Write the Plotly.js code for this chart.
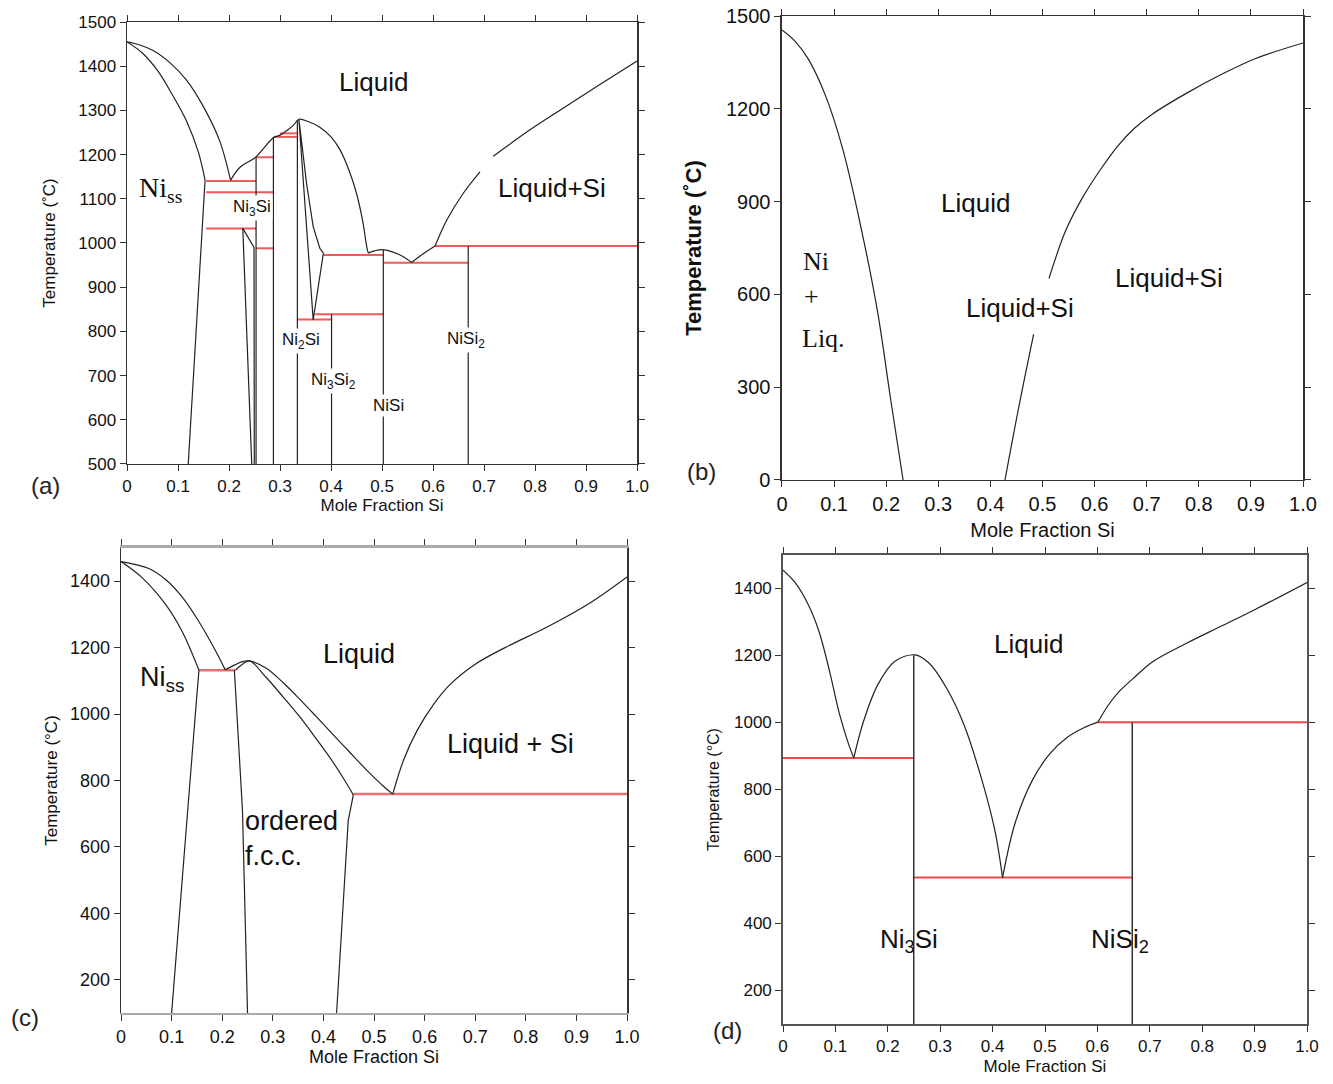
<!DOCTYPE html>
<html><head><meta charset="utf-8">
<script src="https://cdn.plot.ly/plotly-3.0.1.min.js"></script>
<style>html,body{margin:0;padding:0;background:#fff}#chart{width:1333px;height:1084px}</style>
</head><body><div id="chart"></div>
<script>
// ---------- shared tick labels ----------
const xTickVals = [0,0.1,0.2,0.3,0.4,0.5,0.6,0.7,0.8,0.9,1.0];
const xTickText = ['0','0.1','0.2','0.3','0.4','0.5','0.6','0.7','0.8','0.9','1.0'];
const aYTicks = [500,600,700,800,900,1000,1100,1200,1300,1400,1500];
const bYTicks = [0,300,600,900,1200,1500];
const cdYTicks = [200,400,600,800,1000,1200,1400];

// ---------- panel (a) ----------
const aLiqNiX = [0, 0.025, 0.052, 0.084, 0.117, 0.150, 0.182, 0.203];
const aLiqNiT = [1455, 1448, 1435, 1408, 1368, 1308, 1230, 1142];
const aSolNiX = [0, 0.03, 0.06, 0.09, 0.117, 0.140, 0.153];
const aSolNiT = [1455, 1430, 1390, 1333, 1275, 1205, 1142];
const aLiqX = [0.203, 0.222, 0.251, 0.287, 0.300, 0.313, 0.326, 0.337, 0.355, 0.378, 0.400, 0.418, 0.435, 0.450, 0.462, 0.470, 0.473, null,
               0.473, 0.485, 0.500, 0.520, 0.540, 0.558, null,
               0.558, 0.580, 0.604, null,
               0.604, 0.627, 0.659, 0.692, null, 0.718, 0.790, 0.855, 0.921, 1.0];
const aLiqT = [1142, 1172, 1193, 1238, 1244, 1254, 1266, 1280, 1275, 1262, 1240, 1210, 1165, 1112, 1050, 992, 977, null,
               977, 982, 985, 980, 970, 956, null,
               956, 975, 993, null,
               993, 1052, 1112, 1161, null, 1196, 1256, 1305, 1354, 1412];
const aLensX = [0.385, 0.378, 0.365, 0.352, 0.337, 0.365, 0.385];
const aLensT = [977, 988, 1037, 1135, 1280, 826, 977];
const aPhaseX = [0.153, 0.120, null, 0.227, 0.2445, null, 0.227, 0.249, 0.2495, null, 0.253, 0.253, null,
                 0.287, 0.287, null, 0.334, 0.334, null, 0.401, 0.401, null, 0.5025, 0.5025, null, 0.669, 0.669];
const aPhaseT = [1142, 500, null, 1033, 500, null, 1033, 990, 500, null, 1194, 500, null,
                 1240, 500, null, 1278, 500, null, 838, 500, null, 984, 500, null, 993, 500];
const aIsoX = [0.155, 0.253, null, 0.155, 0.287, null, 0.155, 0.253, null, 0.253, 0.287, null, 0.253, 0.287, null,
               0.287, 0.333, null, 0.300, 0.333, null, 0.333, 0.401, null, 0.369, 0.5025, null, 0.385, 0.5025, null,
               0.5025, 0.669, null, 0.604, 1.0];
const aIsoT = [1140, 1140, null, 1115, 1115, null, 1033, 1033, null, 988, 988, null, 1194, 1194, null,
               1240, 1240, null, 1248, 1248, null, 827, 827, null, 839, 839, null, 973, 973, null,
               955, 955, null, 993, 993];

// ---------- panel (b) ----------
const bLeftX = [0, 0.025, 0.051, 0.084, 0.117, 0.150, 0.183, 0.209, 0.2325];
const bLeftT = [1455, 1419, 1360, 1241, 1068, 830, 549, 257, 0];
const bRightX = [0.428, 0.455, 0.483, null, 0.5125, 0.545, 0.578, 0.611, 0.644, 0.677, 0.710, 0.776, 0.842, 0.908, 1.0];
const bRightT = [0, 240, 471, null, 652, 808, 916, 1003, 1079, 1138, 1182, 1250, 1310, 1362, 1413];

// ---------- panel (c) ----------
const cLiqNiX = [0, 0.055, 0.088, 0.121, 0.154, 0.187, 0.206];
const cLiqNiT = [1459, 1438, 1405, 1352, 1278, 1190, 1133];
const cSolNiX = [0, 0.042, 0.088, 0.121, 0.154];
const cSolNiT = [1459, 1410, 1330, 1248, 1132];
const cLiqX = [0.206, 0.225, 0.240, 0.254, 0.287, 0.320, 0.353, 0.386, 0.419, 0.452, 0.485, 0.519, 0.537];
const cLiqT = [1133, 1148, 1158, 1160, 1138, 1095, 1045, 992, 938, 885, 832, 782, 759];
const cSolX = [0.226, 0.240, 0.254, 0.287, 0.320, 0.353, 0.386, 0.419, 0.452, 0.459];
const cSolT = [1132, 1150, 1160, 1110, 1052, 992, 925, 855, 775, 756];
const cSiX = [0.537, 0.558, 0.585, 0.618, 0.651, 0.700, 0.759, 0.842, 0.925, 1.0];
const cSiT = [759, 860, 950, 1030, 1090, 1150, 1200, 1262, 1333, 1413];
const cPhaseX = [0.154, 0.150, 0.100, null, 0.224, 0.240, 0.250, null, 0.459, 0.449, 0.426];
const cPhaseT = [1132, 1060, 100, null, 1132, 710, 100, null, 756, 680, 100];
const cIsoX = [0.154, 0.226, null, 0.459, 1.0];
const cIsoT = [1132, 1132, null, 759, 759];

// ---------- panel (d) ----------
const dLiqX = [0, 0.023, 0.049, 0.069, 0.089, 0.108, 0.125, 0.135, null,
               0.135, 0.154, 0.181, 0.213, 0.252, 0.279, 0.312, 0.345, 0.378, 0.404, 0.419, null,
               0.419, 0.443, 0.476, 0.509, 0.542, 0.575, 0.601, null,
               0.601, 0.620, 0.640, 0.673, 0.706, 0.772, 0.837, 0.903, 1.0];
const dLiqT = [1455, 1418, 1349, 1270, 1152, 1024, 936, 894, null,
               894, 1005, 1113, 1182, 1202, 1177, 1103, 995, 837, 680, 537, null,
               537, 700, 828, 906, 955, 985, 1001, null,
               1001, 1050, 1090, 1138, 1182, 1238, 1288, 1339, 1418];
const dPhaseX = [0.2495, 0.2495, null, 0.6665, 0.6665];
const dPhaseT = [1201, 100, null, 1001, 100];
const dIsoX = [0, 0.2495, null, 0.2495, 0.6665, null, 0.601, 1.0];
const dIsoT = [894, 894, null, 537, 537, null, 1001, 1001];

// ---------- build ----------
const BLACK = '#222';
const RED = '#f05a5a';
function ln(x, y, n, color, width, smooth) {
  return {x: x, y: y, xaxis: 'x' + (n === 1 ? '' : n), yaxis: 'y' + (n === 1 ? '' : n),
          type: 'scatter', mode: 'lines', connectgaps: false, hoverinfo: 'skip',
          line: {color: color, width: width, shape: smooth ? 'spline' : 'linear', smoothing: 1}, showlegend: false};
}
const data = [
  ln(aIsoX, aIsoT, 1, RED, 2), ln(aLiqNiX, aLiqNiT, 1, BLACK, 1.2, true), ln(aSolNiX, aSolNiT, 1, BLACK, 1.2, true),
  ln(aLiqX, aLiqT, 1, BLACK, 1.2, true), ln(aLensX, aLensT, 1, BLACK, 1.2), ln(aPhaseX, aPhaseT, 1, BLACK, 1.2),
  ln(bLeftX, bLeftT, 2, BLACK, 1.2, true), ln(bRightX, bRightT, 2, BLACK, 1.2, true),
  ln(cIsoX, cIsoT, 3, '#e87070', 2.5), ln(cLiqNiX, cLiqNiT, 3, BLACK, 1.2, true), ln(cSolNiX, cSolNiT, 3, BLACK, 1.2, true),
  ln(cLiqX, cLiqT, 3, BLACK, 1.2, true), ln(cSolX, cSolT, 3, BLACK, 1.2, true), ln(cSiX, cSiT, 3, BLACK, 1.2, true),
  ln(cPhaseX, cPhaseT, 3, BLACK, 1.2),
  ln(dIsoX, dIsoT, 4, '#f04848', 2), ln(dLiqX, dLiqT, 4, BLACK, 1.2, true), ln(dPhaseX, dPhaseT, 4, '#333', 1.5)
];

const FONT = 'Liberation Sans, Arial, Helvetica, sans-serif';
const SERIF = 'Liberation Serif, Times New Roman, serif';
function xax(dom, anchor, fs, tfs, standoff, lc, lw) {
  return {domain: dom, anchor: anchor, range: [0, 1], tickmode: 'array', tickvals: xTickVals, ticktext: xTickText,
          ticks: 'outside', ticklen: 6, tickwidth: 1, tickcolor: '#333', mirror: 'ticks', showline: true,
          linecolor: lc, linewidth: lw, showgrid: false, zeroline: false,
          tickfont: {family: FONT, size: fs, color: '#111'},
          title: {text: 'Mole Fraction Si', font: {family: FONT, size: tfs, color: '#111'}, standoff: standoff}};
}
function yax(dom, anchor, range, vals, fs, title, tfs, standoff, lc, lw, weight) {
  return {domain: dom, anchor: anchor, range: range, tickmode: 'array', tickvals: vals,
          ticks: 'outside', ticklen: 6, tickwidth: 1, tickcolor: '#333', mirror: 'ticks', showline: true,
          linecolor: lc, linewidth: lw, showgrid: false, zeroline: false,
          tickfont: {family: FONT, size: fs, color: '#111'},
          title: {text: title, font: {family: FONT, size: tfs, color: '#111', weight: weight}, standoff: standoff}};
}
function ann(text, x, y, n, size, opts) {
  const o = Object.assign({text: text, x: x, y: y, xref: 'x' + (n === 1 ? '' : n), yref: 'y' + (n === 1 ? '' : n),
    showarrow: false, font: {family: FONT, size: size, color: '#111'}, xanchor: 'center', yanchor: 'middle'}, opts || {});
  return o;
}
function pan(text, x, y) {
  return {text: text, x: x, y: y, xref: 'paper', yref: 'paper', showarrow: false,
          font: {family: FONT, size: 24, color: '#222'}, xanchor: 'center', yanchor: 'middle'};
}
const annotations = [
  ann('Liquid', 0.484, 1364, 1, 26),
  ann('Ni<sub>ss</sub>', 0.065, 1122, 1, 28, {font: {family: SERIF, size: 28, color: '#111'}}),
  ann('Liquid+Si', 0.833, 1124, 1, 26),
  ann('Ni<sub>3</sub>Si', 0.245, 1079, 1, 17, {bgcolor: '#fff'}),
  ann('Ni<sub>2</sub>Si', 0.341, 778, 1, 17, {bgcolor: '#fff'}),
  ann('Ni<sub>3</sub>Si<sub>2</sub>', 0.404, 688, 1, 17, {bgcolor: '#fff'}),
  ann('NiSi', 0.512, 633, 1, 17, {bgcolor: '#fff'}),
  ann('NiSi<sub>2</sub>', 0.665, 781, 1, 17, {bgcolor: '#fff'}),
  ann('Liquid', 0.372, 895, 2, 26),
  ann('Ni', 0.065, 705, 2, 26, {font: {family: SERIF, size: 26, color: '#111'}}),
  ann('+', 0.056, 592, 2, 26, {font: {family: SERIF, size: 26, color: '#111'}}),
  ann('Liq.', 0.079, 459, 2, 26, {font: {family: SERIF, size: 26, color: '#111'}}),
  ann('Liquid+Si', 0.457, 556, 2, 26),
  ann('Liquid+Si', 0.743, 653, 2, 26),
  ann('Liquid', 0.470, 1182, 3, 27),
  ann('Ni<sub>ss</sub>', 0.080, 1107, 3, 27),
  ann('Liquid + Si', 0.769, 910, 3, 27),
  ann('ordered', 0.241, 678, 3, 27, {xanchor: 'left'}),
  ann('f.c.c.', 0.241, 572, 3, 27, {xanchor: 'left'}),
  ann('Liquid', 0.469, 1233, 4, 26),
  ann('Ni<sub>3</sub>Si', 0.240, 349, 4, 26),
  ann('NiSi<sub>2</sub>', 0.643, 349, 4, 26),
  pan('(a)', 0.0338, 0.5517), pan('(b)', 0.526, 0.5646), pan('(c)', 0.0188, 0.0618), pan('(d)', 0.546, 0.0489)
];

const layout = {
  width: 1333, height: 1084, margin: {l: 0, r: 0, t: 0, b: 0}, paper_bgcolor: '#fff', plot_bgcolor: '#fff',
  showlegend: false,
  xaxis: xax([0.0953, 0.4779], 'y', 17, 17, 4, '#333', 1.5),
  yaxis: yax([0.5720, 0.9797], 'x', [500, 1500], aYTicks, 17, 'Temperature (˚C)', 17, 18, '#333', 1.5, 'normal'),
  xaxis2: xax([0.5866, 0.9775], 'y2', 20, 20, 8, '#333', 1.5),
  yaxis2: yax([0.5572, 0.9852], 'x2', [0, 1500], bYTicks, 20, 'Temperature (˚C)', 22, 18, '#333', 1.5, 'bold'),
  xaxis3: xax([0.0908, 0.4704], 'y3', 18, 18, 4, '#aaa', 2.5),
  yaxis3: yax([0.0655, 0.4945], 'x3', [100, 1500], cdYTicks, 18, 'Temperature (°C)', 17, 8, '#333', 1.5, 'normal'),
  xaxis4: xax([0.5874, 0.9805], 'y4', 17, 17, 5, '#555', 1.8),
  yaxis4: yax([0.0554, 0.4880], 'x4', [100, 1500], cdYTicks, 17, 'Temperature (°C)', 16, 10, '#555', 1.8, 'normal'),
  annotations: annotations
};
Plotly.newPlot('chart', data, layout, {staticPlot: true, displayModeBar: false});
</script></body></html>
